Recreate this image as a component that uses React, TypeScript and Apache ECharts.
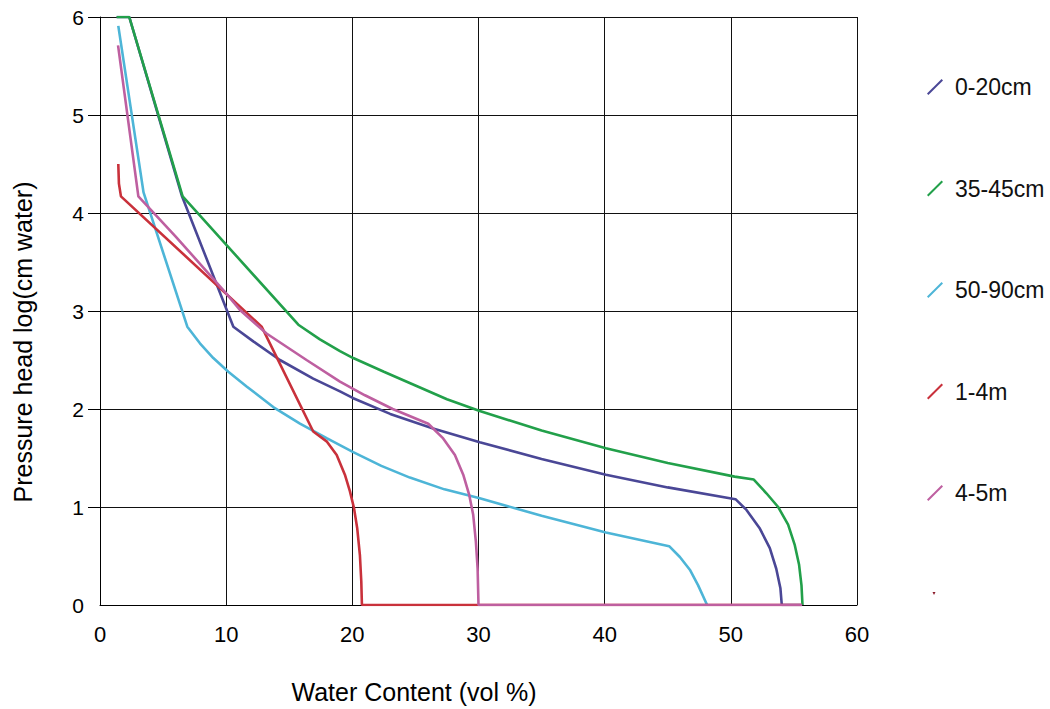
import React, { useEffect, useRef } from "react";
import * as echarts from "echarts";

const seriesNames = ["0-20cm", "35-45cm", "50-90cm", "1-4m", "4-5m"];
const seriesColors = ["#4A4796", "#22A04A", "#4DB5D7", "#C9313B", "#BE5FA0"];

const curve0to20: [number, number][] = [
  [1.32, 6.0], [2.32, 6.0], [6.5, 4.17], [10.57, 2.84], [12.15, 2.69], [14.26, 2.5],
  [16.9, 2.31], [19.02, 2.18], [20.07, 2.11], [23, 1.95], [26.4, 1.8], [30.1, 1.66],
  [35, 1.49], [40.1, 1.33], [45, 1.2], [50.37, 1.08], [51.24, 0.97], [52.3, 0.78],
  [53.09, 0.58], [53.6, 0.37], [53.93, 0.17], [54.04, 0.0], [55.6, 0.0],
];
const curve35to45: [number, number][] = [
  [1.32, 6.0], [2.32, 6.0], [6.55, 4.17], [15.72, 2.86], [17.43, 2.71], [19.02, 2.59],
  [20.07, 2.52], [22.5, 2.38], [25, 2.24], [27.5, 2.1], [30.1, 1.98], [35, 1.78],
  [40.1, 1.6], [45, 1.45], [50.3, 1.31], [51.82, 1.28], [52.82, 1.14], [53.75, 1.0],
  [54.54, 0.82], [55.07, 0.61], [55.41, 0.41], [55.6, 0.2], [55.68, 0.0],
];
const curve50to90: [number, number][] = [
  [1.45, 5.91], [3.45, 4.21], [6.92, 2.84], [7.92, 2.67], [8.98, 2.52], [10.17, 2.38],
  [11.62, 2.23], [13.73, 2.02], [15.85, 1.85], [18, 1.7], [20.07, 1.56], [22.3, 1.42],
  [24.56, 1.3], [27.3, 1.18], [30.1, 1.09], [35, 0.91], [40.1, 0.74],
  [45.11, 0.6], [45.96, 0.49], [46.75, 0.36], [47.41, 0.2], [48.12, 0.0],
];
const curve1to4: [number, number][] = [
  [1.45, 4.5], [1.5, 4.3], [1.66, 4.17], [12.81, 2.84], [16.9, 1.77], [17.96, 1.67],
  [18.76, 1.53], [19.41, 1.33], [19.81, 1.16], [20.13, 0.99], [20.39, 0.78],
  [20.6, 0.51], [20.71, 0.24], [20.76, 0.0], [55.6, 0.0],
];
const curve4to5: [number, number][] = [
  [1.43, 5.71], [3.04, 4.17], [6, 3.76], [10, 3.18], [11.09, 3.01], [13.2, 2.77],
  [16.37, 2.5], [19.02, 2.28], [21, 2.14], [23.2, 2.0], [26.02, 1.85], [27.2, 1.7],
  [28.13, 1.53], [28.79, 1.33], [29.27, 1.12], [29.58, 0.92], [29.79, 0.65],
  [29.93, 0.37], [30.0, 0.0], [55.65, 0.0],
];
const curves = [curve0to20, curve35to45, curve50to90, curve1to4, curve4to5];

const xTicks = { min: 0, max: 60, interval: 10 };
const yTicks = { min: 0, max: 6, interval: 1 };
const yTickMarks = [1, 2, 3, 4, 5, 6];
const xTitle = "Water Content (vol %)";
const yTitle = "Pressure head log(cm water)";

export default function App() {
  const ref = useRef<HTMLDivElement>(null);
  useEffect(() => {
    if (!ref.current) return;
    const chart = echarts.init(ref.current, null, { renderer: "svg" });
    const axisFont = "'Liberation Sans', Arial, sans-serif";
    chart.setOption({
      animation: false,
      backgroundColor: "#ffffff",
      grid: { left: 100, right: 193, top: 17, bottom: 104, containLabel: false },
      legend: {
        orient: "vertical",
        left: 927,
        top: 75.5,
        padding: 0,
        itemWidth: 16,
        itemHeight: 16,
        itemGap: 78.5,
        icon: "path://M0,14.6 L14.6,0 L16,1.4 L1.4,16 Z",
        textStyle: { fontSize: 23, color: "#111", fontFamily: axisFont, padding: [0, 0, 0, 7] },
        data: seriesNames,
      },
      xAxis: {
        type: "value",
        min: xTicks.min,
        max: xTicks.max,
        interval: xTicks.interval,
        axisLine: { show: true, lineStyle: { color: "#000", width: 1 } },
        axisTick: { show: false },
        axisLabel: { fontSize: 22, color: "#000", margin: 18, fontFamily: axisFont },
        splitLine: { show: true, lineStyle: { color: "#111", width: 1 } },
      },
      yAxis: {
        type: "value",
        min: yTicks.min,
        max: yTicks.max,
        interval: yTicks.interval,
        axisLine: { show: true, lineStyle: { color: "#000", width: 1 } },
        axisTick: {
          show: true,
          inside: false,
          length: 12,
          customValues: yTickMarks,
          lineStyle: { color: "#000" },
        },
        axisLabel: { fontSize: 21, color: "#000", margin: 16, fontFamily: axisFont },
        splitLine: { show: true, lineStyle: { color: "#111", width: 1 } },
      },
      series: curves.map((d, i) => ({
        name: seriesNames[i],
        type: "line",
        data: d,
        showSymbol: false,
        smooth: false,
        color: seriesColors[i],
        lineStyle: { color: seriesColors[i], width: 2.6 },
        itemStyle: { color: seriesColors[i] },
        z: 3 + i,
      })),
      graphic: [
        {
          type: "text",
          x: 23,
          y: 342,
          rotation: Math.PI / 2,
          style: {
            text: yTitle,
            fontSize: 25,
            fontFamily: axisFont,
            fill: "#000",
            align: "center",
            verticalAlign: "middle",
          },
        },
        {
          type: "text",
          x: 414,
          y: 692,
          style: {
            text: xTitle,
            fontSize: 25,
            fontFamily: axisFont,
            fill: "#000",
            align: "center",
            verticalAlign: "middle",
          },
        },
        {
          type: "polygon",
          shape: { points: [[932.5, 592], [935.5, 592], [934, 595]] },
          style: { fill: "#8B1A2A" },
        },
      ],
    });
    return () => chart.dispose();
  }, []);
  return (
    <div
      ref={ref}
      style={{ position: "absolute", left: 0, top: 0, width: 1050, height: 709 }}
    />
  );
}
